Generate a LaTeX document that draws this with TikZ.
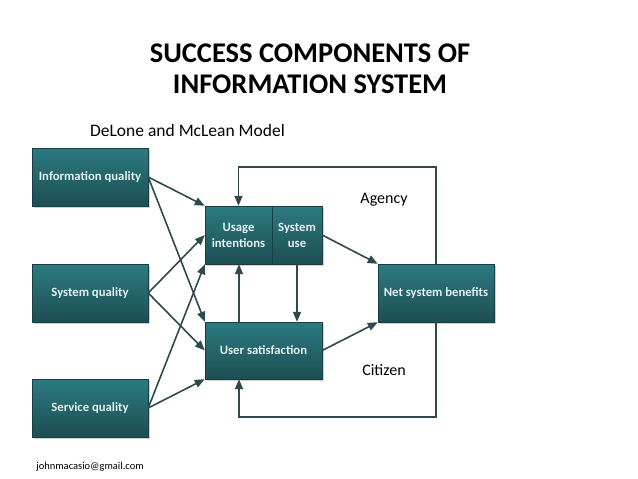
\documentclass[tikz,border=0pt]{standalone}
\usepackage{fontspec}
\setmainfont{Carlito}
\usetikzlibrary{arrows.meta,shadows,calc}
\definecolor{boxtop}{HTML}{2C7B81}
\definecolor{boxbot}{HTML}{1D4E53}
\definecolor{linec}{HTML}{2E4A4F}
\definecolor{boxtxt}{HTML}{E6F1F2}
\tikzset{
  tbox/.style={rectangle, draw=boxbot!80!black, line width=0.4pt,
    top color=boxtop, bottom color=boxbot, text=boxtxt,
    font=\fontsize{12.7}{16}\selectfont\bfseries, align=center,
    inner sep=0pt,
    drop shadow={opacity=0.35, shadow xshift=1.5pt, shadow yshift=-2pt}},
  conn/.style={draw=linec, line width=1.6pt, -{Triangle[length=10pt,width=8pt]}},
  plain/.style={font=\fontsize{16}{19}\selectfont, text=black, inner sep=0pt}
}
\begin{document}
\begin{tikzpicture}[x=1pt,y=-1pt]
\useasboundingbox[fill=white] (0,0) rectangle (638,479);
% title
\node[font=\fontsize{28.5}{31}\selectfont\bfseries, align=center, inner sep=0pt] (title) at (310,69) {SUCCESS COMPONENTS OF\\INFORMATION SYSTEM};
\node[font=\fontsize{17.5}{21}\selectfont, inner sep=0pt] (sub) at (187.5,130) {DeLone and McLean Model};
% boxes
\node[tbox, minimum width=116pt, minimum height=58pt] (iq) at (90,177) {Information quality};
\node[tbox, minimum width=116pt, minimum height=58pt] (sq) at (90,293) {System quality};
\node[tbox, minimum width=116pt, minimum height=58pt] (svq) at (90,408) {Service quality};
\node[tbox, minimum width=67pt, minimum height=58pt] (ui) at (238.5,235) {Usage\\intentions};
\node[tbox, minimum width=50pt, minimum height=58pt] (su) at (297,235) {System\\use};
\node[tbox, minimum width=117pt, minimum height=57pt] (us) at (263.5,350.5) {User satisfaction};
\node[tbox, minimum width=116pt, minimum height=58pt] (nb) at (436,293) {Net system benefits};
% labels
\node[plain] (agency) at (384,200) {Agency};
\node[plain] (citizen) at (384,370) {Citizen};
\node[font=\fontsize{10.5}{12}\selectfont, inner sep=0pt] (mail) at (90,467) {johnmacasio@gmail.com};
% connectors from the quality boxes
\draw[conn] (iq.east) -- (ui.north west);
\draw[conn] (iq.east) -- (us.north west);
\draw[conn] (sq.east) -- (ui.west);
\draw[conn] (sq.east) -- (us.west);
\draw[conn] (svq.east) -- (ui.south west);
\draw[conn] (svq.east) -- (us.south west);
% between usage and satisfaction
\coordinate (ltop) at (238.5,167);
\coordinate (lbot) at (239,417);
\draw[conn] (lbot |- us.north) -- (lbot |- ui.south);
\draw[conn] (su.south) -- (su.south |- us.north);
% to net benefits
\draw[conn] (su.east) -- (nb.north west);
\draw[conn] (us.east) -- (nb.south west);
% feedback loops
\draw[conn] (nb.north) |- (ltop) -- (ui.north);
\draw[conn] (nb.south) |- (lbot) -- (lbot |- us.south);
\end{tikzpicture}
\end{document}
